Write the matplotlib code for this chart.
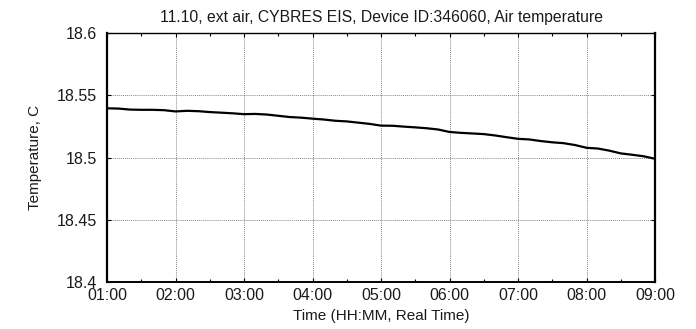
import numpy as np
import matplotlib
matplotlib.use("Agg")
import matplotlib.pyplot as plt
from matplotlib.ticker import MultipleLocator

plt.rcParams['font.family'] = ['Liberation Sans', 'DejaVu Sans']

title = "11.10, ext air, CYBRES EIS, Device ID:346060, Air temperature"
xlabel = "Time (HH:MM, Real Time)"
ylabel = "Temperature, C"

# samples every 10 minutes from 01:00 to 09:00
start_hour = 1.0
step_hours = 1.0 / 6.0
temperature = [
    18.5395, 18.5393, 18.5385, 18.5383, 18.5383, 18.5380,
    18.5370, 18.5375, 18.5372, 18.5365, 18.5360, 18.5355,
    18.5348, 18.5350, 18.5345, 18.5335, 18.5325, 18.5320,
    18.5312, 18.5305, 18.5295, 18.5290, 18.5280, 18.5270,
    18.5256, 18.5255, 18.5248, 18.5242, 18.5235, 18.5225,
    18.5205, 18.5198, 18.5193, 18.5188, 18.5177, 18.5163,
    18.5150, 18.5145, 18.5132, 18.5122, 18.5115, 18.5100,
    18.5078, 18.5072, 18.5055, 18.5033, 18.5022, 18.5010,
    18.4990,
]
x_ticks = [1, 2, 3, 4, 5, 6, 7, 8, 9]
x_ticklabels = ["01:00", "02:00", "03:00", "04:00", "05:00", "06:00", "07:00", "08:00", "09:00"]
y_ticks = [18.4, 18.45, 18.5, 18.55, 18.6]
y_ticklabels = ["18.4", "18.45", "18.5", "18.55", "18.6"]

hours = start_hour + step_hours * np.arange(len(temperature))

fig = plt.figure(figsize=(6.96, 3.29), dpi=100)
ax = fig.add_axes([107/696, 47/329, 548/696, 249/329])

ax.plot(hours, temperature, color='black', lw=1.6)

ax.set_xlim(1, 9)
ax.set_ylim(18.4, 18.6)
ax.set_xticks(x_ticks)
ax.set_xticklabels(x_ticklabels)
ax.xaxis.set_minor_locator(MultipleLocator(0.5))
ax.set_yticks(y_ticks)
ax.set_yticklabels(y_ticklabels)

txt = '#1a1a1a'
ax.tick_params(axis='both', which='major', direction='in', length=3, width=0.8,
               labelsize=11.5, colors='black', labelcolor=txt, top=True, right=True)
ax.tick_params(axis='x', which='major', pad=4.5)
ax.tick_params(axis='y', which='major', pad=7)
ax.tick_params(axis='x', which='minor', direction='in', length=2.5, width=0.8, top=True)

ax.grid(True, which='major', color='#888888', linestyle=(0, (1, 1)), linewidth=0.7)

for side in ['left', 'right']:
    ax.spines[side].set_linewidth(1.6)
ax.spines['bottom'].set_linewidth(1.4)
ax.spines['top'].set_linewidth(1.0)
for s in ax.spines.values():
    s.set_color('black')

ax.set_title(title, fontsize=11.3, pad=8, color=txt)
ax.set_xlabel(xlabel, fontsize=11, labelpad=4, color=txt)
ax.set_ylabel(ylabel, fontsize=11, labelpad=11, color=txt)

fig.savefig("out.png", dpi=100)
